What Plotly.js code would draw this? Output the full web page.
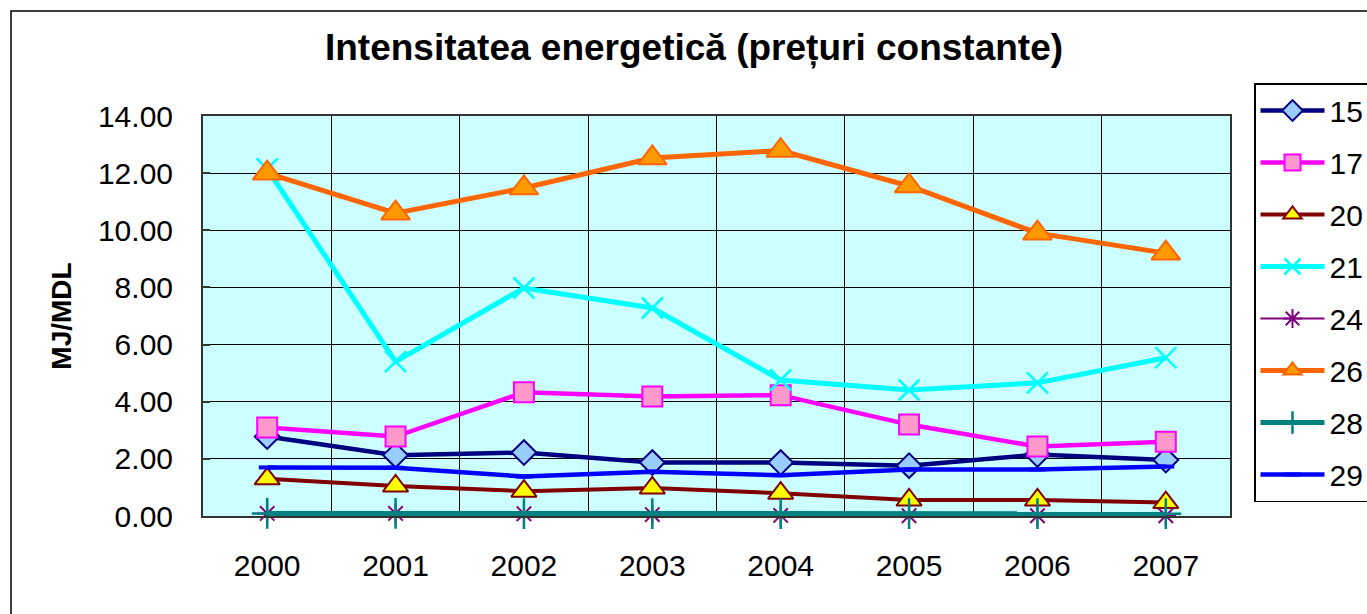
<!DOCTYPE html>
<html>
<head>
<meta charset="utf-8">
<script src="https://cdn.plot.ly/plotly-3.0.1.min.js"></script>
<style>
html,body{margin:0;padding:0;background:#fff;}
#chart{width:1367px;height:614px;}
</style>
</head>
<body>
<div id="chart"></div>
<script>
const years = ["2000","2001","2002","2003","2004","2005","2006","2007"];
const yTicks = [0,2,4,6,8,10,12,14];
const seriesNames = ["15","17","20","21","24","26","28","29"];
const s15 = [2.78, 2.13, 2.22, 1.87, 1.87, 1.76, 2.15, 1.96];
const s17 = [3.10, 2.78, 4.33, 4.18, 4.23, 3.20, 2.43, 2.60];
const s20 = [1.30, 1.05, 0.87, 0.98, 0.80, 0.56, 0.56, 0.47];
const s21 = [12.15, 5.40, 7.98, 7.28, 4.76, 4.41, 4.66, 5.54];
const s24 = [0.09, 0.09, 0.08, 0.05, 0.02, 0.01, 0.01, 0.01];
const s26 = [12.00, 10.60, 11.48, 12.53, 12.79, 11.55, 9.90, 9.20];
const s28 = [0.09, 0.09, 0.08, 0.08, 0.08, 0.08, 0.08, 0.08];
const s29 = [1.70, 1.69, 1.38, 1.55, 1.43, 1.63, 1.63, 1.73];

const FONT = "Liberation Sans, Arial, sans-serif";

function tr(name, y, lineColor, lineWidth, symbol, size, fill, mlColor, mlWidth){
  return {
    type: "scatter", mode: "lines+markers", name: name, x: years, y: y,
    legendgroup: "g" + name, cliponaxis: false,
    line: {color: lineColor, width: lineWidth},
    marker: {symbol: symbol, size: size, color: fill, line: {color: mlColor, width: mlWidth}},
    hoverinfo: "x+y+name"
  };
}

const data = [
  tr(seriesNames[0], s15, "#000080", 4.5, "diamond", 19, "#99CCFF", "#000080", 2),
  tr(seriesNames[1], s17, "#FF00FF", 4.5, "square", 20, "#FF99CC", "#FF00FF", 2),
  tr(seriesNames[2], s20, "#800000", 4, "triangle-up", 22, "#FFFF00", "#800000", 2),
  tr(seriesNames[3], s21, "#00FFFF", 5, "x-thin-open", 21, "#00FFFF", "#00FFFF", 2.5),
  tr(seriesNames[4], s24, "#800080", 2, "asterisk-open", 17, "#800080", "#800080", 2),
  tr(seriesNames[5], s26, "#FF6600", 5, "triangle-up", 25, "#FF9900", "#FF6600", 2),
  tr(seriesNames[6], s28, "#008080", 5, "cross-thin-open", 22, "#008080", "#008080", 2.5),
  tr(seriesNames[7], s29, "#0000FF", 4.5, "line-ew-open", 12, "#0000FF", "#0000FF", 4)
];

const W = 1367, H = 614;
const L = 203, R = 1230, T = 116, B = 516;
const px = v => (v - L) / (R - L);
const py = v => (B - v) / (B - T);

const layout = {
  width: W, height: H,
  margin: {l: L, r: W - R, t: T, b: H - B, pad: 0, autoexpand: false},
  paper_bgcolor: "#FFFFFF",
  plot_bgcolor: "#CCFFFF",
  font: {family: FONT, color: "#000", size: 30},
  title: {
    text: "Intensitatea energetică (prețuri constante)",
    font: {family: FONT, size: 37, color: "#000", weight: "bold"},
    x: 694 / W, xanchor: "center", xref: "container",
    y: 1 - 47 / H, yanchor: "middle", yref: "container"
  },
  xaxis: {
    type: "category", categoryorder: "array", categoryarray: years,
    range: [-0.5, 7.5],
    tickson: "boundaries",
    showgrid: true, gridcolor: "#000", gridwidth: 1,
    showline: true, mirror: true, linecolor: "#333", linewidth: 2,
    ticks: "", tickfont: {family: FONT, size: 30},
    ticklabelstandoff: 22,
    zeroline: false, fixedrange: true
  },
  yaxis: {
    range: [0, 14], tickmode: "array", tickvals: yTicks, tickformat: ".2f",
    showgrid: true, gridcolor: "#000", gridwidth: 1,
    showline: true, mirror: true, linecolor: "#333", linewidth: 2,
    ticks: "inside", ticklen: 7, tickwidth: 2, tickcolor: "#333",
    tickfont: {family: FONT, size: 30},
    ticklabelstandoff: 22,
    zeroline: false, fixedrange: true,
    title: {text: "MJ/MDL", font: {family: FONT, size: 28, weight: "bold"}, standoff: 18}
  },
  showlegend: true,
  legend: {
    x: px(1254), y: py(83), xanchor: "left", yanchor: "top",
    xref: "paper", yref: "paper",
    bgcolor: "#FFFFFF", bordercolor: "#000", borderwidth: 1.5,
    font: {family: FONT, size: 30, color: "#000"},
    tracegroupgap: 10, itemwidth: 64, maxheight: 600,
    traceorder: "grouped"
  },
  shapes: [
    {type: "rect", xref: "paper", yref: "paper",
     x0: px(11), y0: py(640), x1: px(1400), y1: py(11),
     line: {color: "#000", width: 1.5}, fillcolor: "rgba(0,0,0,0)", layer: "below"}
  ]
};

Plotly.newPlot("chart", data, layout, {displayModeBar: false, staticPlot: true});
</script>
</body>
</html>
